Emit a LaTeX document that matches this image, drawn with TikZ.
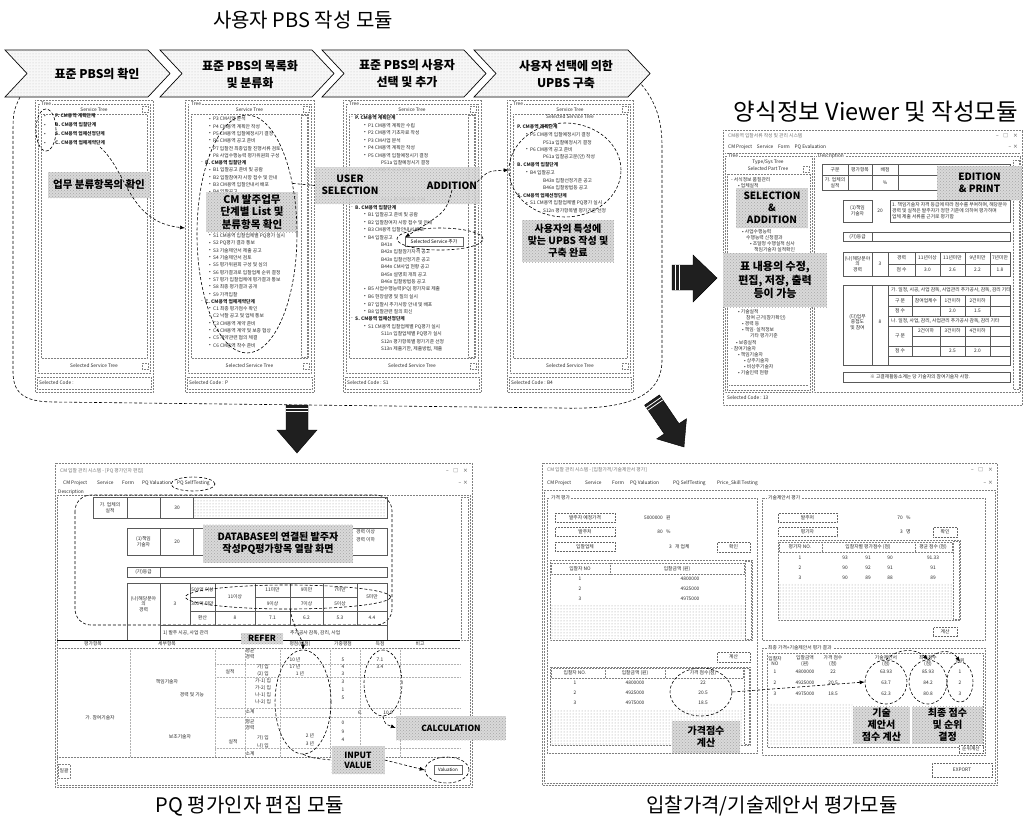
\documentclass[tikz,border=0pt]{standalone}
\usepackage{fontspec}
\setmainfont{Noto Sans CJK KR}
\usetikzlibrary{arrows.meta,patterns,shapes.geometric}
\tikzset{
  tx/.style={font=\fontsize{4.8}{5.6}\selectfont, inner sep=0pt, anchor=west, text=black!85},
  txc/.style={tx, anchor=center, align=center},
  txb/.style={tx, font=\fontsize{4.8}{5.6}\selectfont\bfseries},
  frame/.style={draw=black!50, densely dotted, line width=0.5pt},
  sframe/.style={draw=black!65, line width=0.4pt},
  btn/.style={draw=black!60, densely dotted, line width=0.5pt, fill=white},
  hl/.style={fill=gray!30, postaction={pattern=crosshatch dots, pattern color=black!35}, inner sep=0pt, font=\fontsize{10}{12}\selectfont\bfseries, align=center, text=black},
  chev/.style={draw=black, line width=0.7pt, fill=gray!6, postaction={pattern=dots, pattern color=black!25}},
  chevtxt/.style={font=\fontsize{12}{17}\selectfont\bfseries, align=center, inner sep=0pt},
  darr/.style={densely dashed, line width=0.6pt, -{Latex[length=5pt,width=4pt]}},
  dline/.style={densely dashed, line width=0.6pt},
  ell/.style={draw, ellipse, densely dashed, line width=0.6pt, inner sep=0pt},
  bigarrow/.style={fill=black!88, draw=black},
  hatchw/.style={white, line width=0.8pt},
  captxt/.style={font=\fontsize{20}{24}\selectfont, inner sep=0pt},
  dotfill/.style={pattern=dots, pattern color=black!40},
}
\newcommand{\treepanel}[4]{%
  \pgfmathsetmacro{\pmid}{(#2+#3)/2}
  \draw[frame] (#2,100) rectangle (#3,392);
  \draw[frame] ({#2+3},104) rectangle ({#3-3},373);
  \node[tx,fill=white,inner xsep=1pt] (#1tree) at ({#2+5},104) {Tree};
  \node[txc] (#1st) at (\pmid,109.5) {Service Tree};
  \draw[frame] ({#3-11},106) rectangle ({#3-5},112);
  \draw[frame] ({#2+6},114) rectangle ({#3-6},358);
  \node[txc] (#1sst) at (\pmid,366) {Selected Service Tree};
  \draw[frame] ({#3-11},363) rectangle ({#3-5},369);
  \draw[frame] ({#2+2},377) rectangle ({#3-2},389);
  \node[tx] (#1code) at ({#2+4},383) {Selected Code : #4};
}
\newcommand{\treeitems}[6]{%
  \foreach \n/\lv/\txt in {#6} {
    \pgfmathsetmacro{\yy}{#4+#5*\n}
    \pgfmathsetmacro{\xx}{#2+#3*\lv}
    \ifnum\lv=0
      \node[txb] (#1\n) at (\xx,\yy) {\txt};
      \node[tx,anchor=east] (#1m\n) at ({\xx-2},\yy) {-};
    \else
      \node[tx] (#1\n) at (\xx,\yy) {\txt};
      \ifnum\lv=1
        \node[tx,anchor=east] (#1m\n) at ({\xx-2},\yy) {•};
      \fi
    \fi
  }%
}
\begin{document}
\begin{tikzpicture}[x=1pt,y=-1pt]
\fill[white] (0,0) rectangle (1029,819);
\useasboundingbox (0,0) rectangle (1029,819);

% ---------------- top-left module ----------------
\node[captxt] (t1) at (303,20) {사용자 PBS 작성 모듈};

\draw[dline] (20,97) .. controls (13,112) .. (13,140) -- (13,372)
  .. controls (13,396) and (28,402) .. (55,402) -- (560,408)
  .. controls (625,410) and (662,398) .. (662,360) -- (662,145)
  .. controls (662,115) and (652,97) .. (641,84);

\foreach \ci/\cb/\ct in {1/5/170,2/160/334,3/322/486,4/474/650}{
  \draw[chev] (\cb,50) -- ({\ct-22},50) -- (\ct,73.5) -- ({\ct-22},97) -- (\cb,97) -- ({\cb+22},73.5) -- cycle;
}
\node[chevtxt] (c1) at (97,74) {표준 PBS의 확인};
\node[chevtxt] (c2) at (250,74) {표준 PBS의 목록화\\및 분류화};
\node[chevtxt] (c3) at (407,74) {표준 PBS의 사용자\\선택 및 추가};
\node[chevtxt] (c4) at (566,74) {사용자 선택에 의한\\UPBS 구축};

% panel 1
\treepanel{pa}{35}{153}{}
\foreach \n/\txt in {0/{P. CM용역 계획단계},1/{B. CM용역 입찰단계},2/{S. CM용역 업체선정단계},3/{C. CM용역 업체계약단계}}{
  \node[txb] (pai\n) at (55,{116+9*\n}) {\txt};
  \node[txc] (pab\n) at (45,{116+9*\n}) {•};
}
\node[ell, minimum width=20, minimum height=42] (pae) at (46,130) {};
\node[hl, minimum width=102, minimum height=26, font=\fontsize{10.5}{12}\selectfont\bfseries] (pah) at (99,185) {업무 분류항목의 확인};

% panel 2
\treepanel{pb}{185}{314}{P}
\draw[frame] (301,115) rectangle (307,357);
\treeitems{pbi}{205}{8}{119}{7.3}{0/1/{P3 CM사업 분석},1/1/{P4 CM용역 계획안 작성},2/1/{P5 CM용역 입찰예정시기 결정},3/1/{P6 CM용역 공고 준비},4/1/{P7 입찰전 최종입찰 진행서류 검토},5/1/{P8 사업수행능력 평가위원회 구성},6/0/{B. CM용역 입찰단계},7/1/{B1 입찰공고 준비 및 공람},8/1/{B2 입찰참여자 사항 접수 및 안내},9/1/{B3 CM용역 입찰안내서 배포},10/1/{B4 입찰공고},16/1/{S1 CM용역 입찰업체별 PQ평가 실시},17/1/{S2 PQ평가 결과 통보},18/1/{S3 기술제안서 제출 공고},19/1/{S4 기술제안서 검토},20/1/{S5 평가위원회 구성 및 심의},21/1/{S6 평가결과로 입찰업체 순위 결정},22/1/{S7 평가 입찰업체에 평가결과 통보},23/1/{S8 최종 평가결과 공개},24/1/{S9 가격입찰},25/0/{C. CM용역 업체계약단계},26/1/{C1 최종 평가점수 확인},27/1/{C2 낙찰 공고 및 업체 통보},28/1/{C3 CM용역 계약 준비},29/1/{C4 CM용역 계약 및 보증 협상},30/1/{C5 계약관련 협의 체결},31/1/{C6 CM용역 착수 준비}}
\node[hl, minimum width=92, minimum height=40, font=\fontsize{10.5}{12.5}\selectfont\bfseries] (pbh) at (252,212) {CM 발주업무\\단계별 List 및\\분류항목 확인};
\node[ell, minimum width=100, minimum height=238] (pbe) at (247,234) {};

% panel 3
\treepanel{pc}{343}{481}{S1}
\draw[frame] (468,115) rectangle (474,357);
\treeitems{pci}{355}{13}{118}{7.45}{0/0/{P. CM용역 계획단계},1/1/{P1 CM용역 계획안 수립},2/1/{P2 CM용역 기초자료 작성},3/1/{P3 CM사업 분석},4/1/{P4 CM용역 계획안 작성},5/1/{P5 CM용역 입찰예정시기 결정},6/2/{P51a 입찰예정시기 결정},7/1/{P6 CM용역 공고 준비},11/2/{P81a 평가위원회 구성},12/0/{B. CM용역 입찰단계},13/1/{B1 입찰공고 준비 및 공람},14/1/{B2 입찰참여자 사항 접수 및 안내},15/1/{B3 CM용역 입찰안내서 배포},16/1/{B4 입찰공고},17/2/{B41n},18/2/{B42n 입찰참가자격 공고},19/2/{B43n 입찰선정기준 공고},20/2/{B44n CM사업 현황 공고},21/2/{B45n 설명회 개최 공고},22/2/{B46n 입찰방법등 공고},23/1/{B5 사업수행능력(PQ) 평가자료 제출},24/1/{B6 현장설명 및 질의 실시},25/1/{B7 입찰시 추가사항 안내 및 배포},26/1/{B8 입찰관련 질의 회신},27/0/{S. CM용역 업체선정단계},28/1/{S1 CM용역 입찰업체별 PQ평가 실시},29/2/{S11n 입찰업체별 PQ평가 실시},30/2/{S12n 평가항목별 평가기준 선정},31/2/{S13n 제출기한, 제출방법, 제출}}
\node[draw=black!60, fill=white, font=\fontsize{4.8}{5.6}\selectfont, inner sep=1pt, minimum width=58, minimum height=9] (pcpop) at (434,242) {Selected Service 추가};
\node[ell, minimum width=86, minimum height=22] (pcpe) at (440,239) {};

% panel 4
\treepanel{pd}{507}{633}{B4}
\node[txc] (pdsel) at (570,117) {Selected Service Tree};
\treeitems{pdi}{517}{13}{127}{7.6}{0/0/{P. CM용역 계획단계},1/1/{P5 CM용역 입찰예정시기 결정},2/2/{P51a 입찰예정시기 결정},3/1/{P6 CM용역 공고 준비},4/2/{P61a 입찰공고문(안) 작성},5/0/{B. CM용역 입찰단계},6/1/{B4 입찰공고},7/2/{B43n 입찰선정기준 공고},8/2/{B46n 입찰방법등 공고},9/0/{S. CM용역 업체선정단계},10/1/{S1 CM용역 입찰업체별 PQ평가 실시},11/2/{S12n 평가항목별 평가기준 선정}}
\node[ell, minimum width=112, minimum height=94] (pde) at (565,170) {};
\node[hl, minimum width=92, minimum height=42] (pdh) at (568,241) {사용자의 특성에\\맞는 UPBS 작성 및\\구축 완료};

% selection band
\node[hl, minimum width=165, minimum height=37, fill opacity=0.88] (band) at (397.5,185.5) {};
\node[font=\fontsize{10}{12}\selectfont\bfseries, align=center, inner sep=0pt] (pcuser) at (350,185) {USER\\SELECTION};
\node[font=\fontsize{10}{12}\selectfont\bfseries, inner sep=0pt] (pcadd) at (452,186) {ADDITION};

% connectors upper
\coordinate (pas) at (100,147);
\coordinate (pbin) at (185,228);
\draw[darr] (pas) .. controls (128,172) and (128,222) .. (pbin);
\draw[dline] (pbe.48) -- (band.west);
\draw[darr] (pcadd.north east) .. controls (488,171) .. (pde.west);
\draw[darr] (pcadd.south) .. controls (446,212) .. (pcpop.north west);

% ---------------- right: form viewer ----------------
\node[captxt, font=\fontsize{23.5}{26}\selectfont] (t2) at (876,112) {양식정보 Viewer 및 작성모듈};
\draw[frame] (723,130) rectangle (1022,405);
\node[tx,text=black!55] (rwtitle) at (728,136) {CM용역 입찰서류 작성 및 관리 시스템};
\node[tx,anchor=east] (rwctl) at (1018,136) {–\quad □\quad ×};
\node[tx] (rmenu) at (728,147) {CM Project\quad Service\quad Form\quad PQ Evaluation};
\node[tx,anchor=east] (rmctl) at (1018,147) {– \,×};
\draw[frame] (725,153) -- (1020,153);
\draw[frame] (725,156) rectangle (812,392);
\node[tx,fill=white,inner xsep=1pt] (rtree) at (727,156) {Tree};
\node[txc] (rtt) at (768,162) {Type/Sys Tree};
\node[txc] (rspt) at (768,169) {Selected Part Tree};
\draw[frame] (803,166) rectangle (809,172);
\draw[frame] (727,174) rectangle (810,390);
\draw[frame] (729,385) -- (808,385);
\foreach \n/\x/\y/\txt in {1/731/180/{- 서식정보 품질관리},2/738/186/{• 업체실적},3/742/232/{• 사업수행능력},4/746/238/{수행능력 신청결과},5/750/244/{• 조달청 수행실적 심사},6/754/250/{책임기술자 실적확인},7/738/312/{• 기술실적},8/746/318/{참여 근거(참가확인)},9/742/324/{• 경력 등},10/742/330/{• 책임·실적정보},11/750/336/{기타 평가기준},12/736/343/{• 보증실적},13/731/349/{- 참여기술자},14/738/355/{• 책임기술자},15/744/361/{• 상주기술자},16/744/367/{• 비상주기술자},17/738/373/{• 기술인력 현황}}{
  \node[tx] (rl\n) at (\x,\y) {\txt};
}
\node[tx] (rcode) at (727,398) {Selected Code : 13};
\draw[frame] (814,156) rectangle (1020,392);
\node[tx,fill=white,inner xsep=1pt] (rdesc) at (817,156) {Description};
\draw[frame] (1013,160) rectangle (1019,389);
% tables
\draw[sframe] (822,164) rectangle (1010,190);
\draw[sframe] (848,164) -- (848,190) (872,164) -- (872,190) (898,164) -- (898,190) (822,175) -- (1010,175);
\node[txc] (rt1a) at (835,169.5) {구분};
\node[txc] (rt1b) at (860,169.5) {평가항목};
\node[txc] (rt1c) at (885,169.5) {배점};
\node[txc] (rt1d) at (835,182.5) {가. 업체의\\실적};
\node[txc] (rt1e) at (885,182.5) {\%};
\draw[sframe] (843,200) rectangle (872,222);
\node[txc] (rt2a) at (857.5,211) {(1)책임\\기술자};
\node[txc] (rt2b) at (880,211) {20};
\draw[sframe] (890,200) rectangle (1010,222);
\node[tx] (rt2c) at (892,205) {1. 책임기술자 자격 등급에 따라 점수를 부여하며, 해당분야};
\node[tx] (rt2d) at (892,211) {경력 및 실적은 발주자가 정한 기준에 의하여 평가하며};
\node[tx] (rt2e) at (892,217) {업체 제출 서류를 근거로 평가함};
\draw[sframe] (843,232) rectangle (1010,241);
\draw[sframe] (872,232) -- (872,241);
\node[txc] (rt3a) at (857.5,236.5) {(가)등급};
\draw[sframe] (843,252) rectangle (1010,276);
\foreach \x in {872,888,915,940,965,990}{\draw[sframe] (\x,252) -- (\x,276);}
\draw[sframe] (888,264) -- (1010,264);
\node[txc] (rt4a) at (857.5,264) {(나)해당분야\\의\\경력};
\node[txc] (rt4b) at (880,264) {3};
\foreach \n/\x/\ta/\tb in {1/901.5/{경력}/{점 수},2/927.5/{11년이상}/{3.0},3/952.5/{11년미만}/{2.6},4/977.5/{9년미만}/{2.2},5/1000/{7년미만}/{1.8}}{
  \node[txc] (rt4r\n) at (\x,258) {\ta};
  \node[txc] (rt4s\n) at (\x,270) {\tb};
}
\draw[sframe] (843,285) rectangle (1010,365);
\draw[sframe] (872,285) -- (872,365) (888,285) -- (888,365);
\node[txc] (rt5a) at (857.5,322) {(다)업무\\중첩도\\및 참여};
\node[txc] (rt5b) at (880,322) {8};
\node[tx] (rt5c) at (891,290) {가. 일정, 시공, 사업 감독, 사업관리 추가공사, 감독, 감리 기타};
\draw[sframe] (888,295) rectangle (1010,316);
\foreach \x in {912,940,965,990}{\draw[sframe] (\x,295) -- (\x,316);}
\draw[sframe] (888,306) -- (1010,306);
\node[txc] (rt5d) at (900,300.5) {구 분};
\node[txc] (rt5e) at (926,300.5) {참여업체수};
\node[txc] (rt5f) at (952.5,300.5) {1건이하};
\node[txc] (rt5g) at (977.5,300.5) {2건이하};
\node[txc] (rt5h) at (900,311) {점 수};
\node[txc] (rt5i) at (952.5,311) {2.0};
\node[txc] (rt5j) at (977.5,311) {1.5};
\node[tx] (rt5k) at (891,321) {나. 일정, 사업, 감리, 사업관리 추가공사 감독, 감리 기타};
\draw[sframe] (888,326) rectangle (1010,356);
\foreach \x in {912,940,965,990}{\draw[sframe] (\x,326) -- (\x,356);}
\draw[sframe] (888,346) -- (1010,346) (912,336) -- (1010,336);
\node[txc] (rt5l) at (900,336) {구 분};
\node[txc] (rt5m) at (926,331) {2건이하};
\node[txc] (rt5n) at (952.5,331) {3건이하};
\node[txc] (rt5o) at (977.5,331) {4건이하};
\node[txc] (rt5p) at (900,351) {점 수};
\node[txc] (rt5q) at (952.5,351) {2.5};
\node[txc] (rt5r) at (977.5,351) {2.0};
\draw[sframe] (843,372) rectangle (1010,382);
\node[tx] (rt6) at (870,377) {※ 고결재활동소계는 당 기술자의 참여기술자 사항.};
\node[hl, minimum width=72, minimum height=40] (rsel) at (772,208) {SELECTION\\\&\\ADDITION};
\node[hl, minimum width=104, minimum height=54, font=\fontsize{11}{13.5}\selectfont\bfseries] (rtbl) at (775,280) {표 내용의 수정,\\편집, 저장, 출력\\등이 가능};
\node[hl, minimum width=85, minimum height=34] (redit) at (979.5,183) {EDITION\\\& PRINT};

% big arrows
\draw[bigarrow] (672,265) -- (693,265) -- (693,255) -- (717,278) -- (693,302) -- (693,290) -- (672,290) -- cycle;
\draw[hatchw] (675.5,265) -- (675.5,290) (679,265) -- (679,290);
\draw[bigarrow] (286,405) -- (308,405) -- (308,430) -- (317,430) -- (297,453) -- (277,430) -- (286,430) -- cycle;
\draw[hatchw] (286,408) -- (308,408) (286,411.5) -- (308,411.5);
\draw[bigarrow] (659.4,394.9) -- (679.0,423.7) -- (686.5,418.7) -- (684,447) -- (656.7,438.9) -- (664.2,433.9) -- (644.6,405.1) -- cycle;
\draw[hatchw] (646.3,407.6) -- (661.1,397.4) (648,410.1) -- (662.8,399.9);

% ---------------- bottom-left: PQ editor ----------------
\draw[frame] (55,463) rectangle (472,787);
\node[tx,text=black!55] (qtitle) at (60,471) {CM 입찰 관리 시스템 - [PQ 평가인자 편집]};
\node[tx,anchor=east] (qctl) at (468,471) {–\quad □\quad ×};
\node[tx] (qm1) at (63,483) {CM Project};
\node[tx] (qm2) at (97,483) {Service};
\node[tx] (qm3) at (122,483) {Form};
\node[tx] (qm4) at (142,483) {PQ Valuation};
\node[tx] (qm5) at (177,483) {PQ SelfTesting};
\node[ell, minimum width=44, minimum height=14] (qme) at (193,484) {};
\node[tx,anchor=east] (qmctl) at (468,483) {– \,×};
\node[tx] (qdesc) at (58,492) {Description};
\draw[frame] (57,495) rectangle (470,785);
\draw[frame] (461,497) rectangle (468,640);
\draw[dline, rounded corners=16] (75,495) rectangle (392,625);
\draw[sframe] (93,497) rectangle (387,518);
\draw[sframe] (127,497) -- (127,518) (160,497) -- (160,518) (193,497) -- (193,518);
\fill[dotfill] (194,498) rectangle (386,517);
\node[txc] (qa1) at (110,507.5) {가. 업체의\\실적};
\node[txc] (qa2) at (177,507.5) {30};
\draw[sframe] (127,528) rectangle (387,555);
\draw[sframe] (160,528) -- (160,555) (193,528) -- (193,555);
\node[txc] (qb1) at (143.5,541.5) {(1)책임\\기술자};
\node[txc] (qb2) at (177,541.5) {20};
\node[tx] (qb3) at (356,532) {경력 이상};
\node[tx] (qb4) at (356,540) {경력 이하};
\node[hl, minimum width=150, minimum height=38] (qdb) at (278,543.5) {DATABASE의 연결된 발주자\\작성PQ평가항목 열람 화면};
\draw[sframe] (127,567) rectangle (387,577);
\draw[sframe] (160,567) -- (160,577);
\node[txc] (qc1) at (143.5,572) {(가)등급};
\draw[sframe] (127,583) rectangle (387,640);
\draw[sframe] (160,583) -- (160,640) (190,583) -- (190,625) (160,625) -- (387,625);
\foreach \x in {215,255,290,323,357}{\draw[sframe] (\x,583) -- (\x,625);}
\draw[sframe] (190,597) -- (215,597) (255,597) -- (357,597) (190,611) -- (387,611);
\node[txc] (qd1) at (143.5,604) {(나)해당분야\\의\\경력};
\node[txc] (qd2) at (175,604) {3};
\node[txc] (qd3) at (202.5,590) {500억 이상};
\node[txc] (qd4) at (202.5,604) {300억 미만};
\node[txc] (qd5) at (202.5,618) {환산};
\node[txc] (qd6) at (235,597) {11이상};
\node[txc] (qd7) at (272.5,590) {11미만};
\node[txc] (qd8) at (272.5,604) {9이상};
\node[txc] (qd9) at (306.5,590) {9미만};
\node[txc] (qd10) at (306.5,604) {7이상};
\node[txc] (qd11) at (340,590) {7미만};
\node[txc] (qd12) at (340,604) {5이상};
\node[txc] (qd13) at (372,597) {5미만};
\foreach \n/\x/\v in {1/235/8,2/272.5/7.1,3/306.5/6.2,4/340/5.3,5/372/4.4}{\node[txc] (qdv\n) at (\x,618) {\v};}
\node[tx] (qe1) at (163,632.5) {1) 발주 시공, 사업 관리};
\node[tx] (qe2) at (290,632.5) {추가공사 감독, 감리, 사업};
\node[ell, minimum width=205, minimum height=24] (qde) at (288,597) {};
% lower table
\draw[line width=0.8pt] (57,640) -- (460,640);
\foreach \n/\x/\txt in {1/93/평가항목,2/167/세부항목,3/300/평점(배점),4/343/가중평점,5/380/득점,6/420/비고}{\node[txc] (qh\n) at (\x,644) {\txt};}
\draw[frame] (57,648) -- (460,648);
\foreach \x in {130,215,245,280,330,360,400}{\draw[frame,draw=black!30] (\x,648) -- (\x,757);}
\foreach \y in {664,677,708,717,748}{\draw[frame,draw=black!30] (215,\y) -- (460,\y);}
\draw[frame] (57,757) -- (460,757);
\foreach \n/\x/\y/\txt in {1/250/651/{평균},2/250/657/{경력},3/230/672/{실적},4/263/667/{가) 입},5/263/674/{(2) 입},6/263/681/{가-1) 입},7/263/688/{가-2) 입},8/263/695/{나-1) 입},9/263/702/{나-2) 입},10/167/682/{책임기술자},11/192/695/{경력 및 기능},12/250/712/{소계},13/100/718/{가. 참여기술자},14/250/722/{평균},15/250/728/{경력},16/180/737/{보조기술자},17/233/742/{실적},18/263/738/{가) 입},19/263/746/{나) 입},20/250/754/{소계},21/295/660/{10 년},22/295/667/{17 년},23/300/674/{1 년},24/343/660/{5},25/343/667/{4},26/343/674/{3},27/343/682/{3},28/343/690/{1},29/343/698/{5},30/360/713/{6.},31/388/713/{10.9},32/343/723/{0},33/343/732/{9},34/343/740/{4},35/310/736/{2 년},36/310/744/{3 년},37/380/660/{7.1},38/380/667/{3.4}}{
  \node[txc] (ql\n) at (\x,\y) {\txt};
}
\draw[frame] (58,764) rectangle (70,778);
\node[txc] (qsm) at (64,771) {일괄};
\node[hl, minimum width=42, minimum height=11, font=\fontsize{8.5}{10}\selectfont\bfseries] (qrefer) at (262,638.5) {REFER};
\node[ell, minimum width=56, minimum height=104] (qin) at (303,702) {};
\node[ell, minimum width=38, minimum height=66] (qcalc) at (383,683) {};
\node[hl, minimum width=110, minimum height=24, font=\fontsize{8.5}{10}\selectfont\bfseries] (qcl) at (451,728) {CALCULATION};
\node[hl, minimum width=53, minimum height=28, font=\fontsize{8.5}{10}\selectfont\bfseries] (qiv) at (358,760) {INPUT\\VALUE};
\node[draw=black!60, fill=white, font=\fontsize{4.5}{5}\selectfont, inner sep=1pt, minimum width=28, minimum height=9] (qval) at (448,770) {Valuation};
\node[ell, minimum width=44, minimum height=26] (qvale) at (447,770) {};
\draw[darr] (qde.-80) .. controls (293,628) and (303,640) .. (qin.north);
\draw[darr] (qcalc.south) .. controls (385,724) .. (qcl.west);
\draw[dline] (qin.south) .. controls (312,758) .. (qiv.west);
\draw[darr] (qiv.east) -- (qvale.west);

% ---------------- bottom-right: bid evaluation ----------------
\draw[frame] (542,463) rectangle (997,785);
\node[tx,text=black!55] (btitle) at (547,470) {CM 입찰 관리 시스템 - [입찰가격/기술제안서 평가]};
\node[tx,anchor=east] (bctl) at (993,470) {–\quad □\quad ×};
\node[tx] (bm1) at (547,483) {CM Project};
\node[tx] (bm2) at (585,483) {Service};
\node[tx] (bm3) at (612,483) {Form};
\node[tx] (bm4) at (630,483) {PQ Valuation};
\node[tx] (bm5) at (673,483) {PQ SelfTesting};
\node[tx] (bm6) at (717,483) {Price\_Skill Testing};
\node[tx,anchor=east] (bmctl) at (993,483) {– \,×};
\draw[frame] (544,490) rectangle (995,783);
% price group
\draw[frame] (547,498) rectangle (757,753);
\node[tx,fill=white,inner xsep=1pt] (bg1) at (550,498) {가격 평가};
\node[btn,txc,minimum width=60,minimum height=9] (bb1) at (585,517.5) {발주자 예정가격};
\node[tx,anchor=east] (bv1) at (663,517.5) {5000000};
\node[tx] (bu1) at (666,517.5) {원};
\node[btn,txc,minimum width=60,minimum height=9] (bb2) at (585,532) {발주처};
\node[tx,anchor=east] (bv2) at (663,532) {80};
\node[tx] (bu2) at (666,532) {\%};
\node[btn,txc,minimum width=60,minimum height=9] (bb3) at (585,546.5) {입찰업체};
\node[tx,anchor=east] (bv3) at (672,546.5) {3};
\node[tx] (bu3) at (675,546.5) {개 업체};
\node[btn,txc,minimum width=33,minimum height=10] (bb4) at (733.5,547) {확인};
\draw[frame] (550,560) rectangle (752,640);
\draw[frame] (551,563) rectangle (744,574);
\draw[frame] (610,563) -- (610,574);
\node[txc] (bt1h1) at (580,568.5) {입찰자 NO};
\node[txc] (bt1h2) at (677,568.5) {입찰금액 (원)};
\foreach \r/\v in {1/4800000,2/4925000,3/4975000}{
  \node[txc] (bt1a\r) at (580,{569+10*\r}) {\r};
  \node[txc] (bt1b\r) at (690,{569+10*\r}) {\v};
}
\fill[dotfill] (551,605) rectangle (744,638);
\draw[frame] (745,561) rectangle (751,639);
\node[btn,txc,minimum width=33,minimum height=10] (bcalc1) at (733.5,657) {계산};
\draw[frame] (550,667) rectangle (750,745);
\draw[frame] (551,668) rectangle (743,678);
\draw[frame] (605,668) -- (605,678) (665,668) -- (665,678);
\node[txc] (bt2h1) at (575,673) {입찰자 NO.};
\node[txc] (bt2h2) at (635,673) {입찰금액 (원)};
\node[txc] (bt2h3) at (703,673) {가격 점수(점)};
\foreach \r/\v/\s in {1/4800000/22,2/4925000/20.5,3/4975000/18.5}{
  \node[txc] (bt2a\r) at (575,{673+10*\r}) {\r};
  \node[txc] (bt2b\r) at (635,{673+10*\r}) {\v};
  \node[txc] (bt2c\r) at (703,{673+10*\r}) {\s};
}
\fill[dotfill] (551,709) rectangle (743,744);
\draw[frame] (744,668) rectangle (749,744);
\node[ell, minimum width=62, minimum height=48] (bpe) at (701,692) {};
\node[hl, minimum width=68, minimum height=32] (bph) at (706,737) {가격점수\\계산};
% tech group
\draw[frame] (762,498) rectangle (985,640);
\node[tx,fill=white,inner xsep=1pt] (bg2) at (767,498) {기술제안서 평가};
\node[btn,txc,minimum width=59,minimum height=9] (bb5) at (807.5,517.5) {발주처};
\node[tx,anchor=east] (bv5) at (903,517.5) {70};
\node[tx] (bu5) at (906,517.5) {\%};
\node[btn,txc,minimum width=59,minimum height=9] (bb6) at (807.5,532) {평가자};
\node[tx,anchor=east] (bv6) at (903,532) {3};
\node[tx] (bu6) at (906,532) {명};
\node[btn,txc,minimum width=24,minimum height=10] (bb7) at (945,532) {확인};
\draw[frame] (778,540) rectangle (960,620);
\draw[frame] (779,542) rectangle (952,552);
\draw[frame] (822,542) -- (822,552) (915,542) -- (915,552);
\node[txc] (bt3h1) at (800,547) {평가자 NO.};
\node[txc] (bt3h2) at (868,547) {입찰자별 평가점수 (점)};
\node[txc] (bt3h3) at (933,547) {평균 점수 (점)};
\foreach \r/\a/\b/\c/\m in {1/93/91/90/91.33,2/90/92/91/91,3/90/89/88/89}{
  \node[txc] (bt3a\r) at (800,{548+10*\r}) {\r};
  \node[txc] (bt3b\r) at (845,{548+10*\r}) {\a};
  \node[txc] (bt3c\r) at (868,{548+10*\r}) {\b};
  \node[txc] (bt3d\r) at (890,{548+10*\r}) {\c};
  \node[txc] (bt3e\r) at (933,{548+10*\r}) {\m};
}
\fill[dotfill] (779,584) rectangle (952,618);
\draw[frame] (953,541) rectangle (959,619);
\node[btn,txc,minimum width=24,minimum height=9] (bcalc2) at (945,632) {계산};
% result group
\draw[frame] (762,648) rectangle (985,755);
\node[tx,fill=white,inner xsep=1pt] (bg3) at (767,648) {최종 가격+기술제안서 평가 결과};
\draw[frame] (767,653) rectangle (983,747);
\foreach \n/\x/\txt in {1/775/{입찰자\\NO},2/805/{입찰금액\\(원)},3/833/{가격 점수\\(점)},4/886/{기술제안서\\(점)},5/928/{최종점수\\(점)},6/960/{순위}}{
  \node[txc] (bt4h\n) at (\x,661) {\txt};
}
\foreach \r/\v/\p/\t/\f in {1/4800000/22/63.93/85.93,2/4925000/20.5/63.7/84.2,3/4975000/18.5/62.3/80.8}{
  \node[txc] (bt4a\r) at (775,{661+11*\r}) {\r};
  \node[txc] (bt4b\r) at (805,{661+11*\r}) {\v};
  \node[txc] (bt4c\r) at (833,{661+11*\r}) {\p};
  \node[txc] (bt4d\r) at (886,{661+11*\r}) {\t};
  \node[txc] (bt4e\r) at (928,{661+11*\r}) {\f};
  \node[txc] (bt4f\r) at (960,{661+11*\r}) {\r};
}
\fill[dotfill] (768,703) rectangle (852,745);
\node[ell, minimum width=42, minimum height=44] (bc1) at (886,682) {};
\node[ell, minimum width=38, minimum height=44] (bc2) at (928,682) {};
\node[ell, minimum width=26, minimum height=40] (bc3) at (960,682) {};
\draw[darr] (bpe.east) -- (bc1.west);
\draw[darr] (bc1.north) .. controls (898,648) and (916,648) .. (bc2.north);
\draw[darr] (bc2.north) .. controls (940,648) and (952,650) .. (bc3.north);
\node[hl, minimum width=57, minimum height=37] (bth) at (881.5,725) {기술\\제안서\\점수 계산};
\node[hl, minimum width=71, minimum height=37] (bfh) at (947.5,725) {최종 점수\\및 순위\\결정};
\node[btn,txc,minimum width=24,minimum height=8] (brank) at (971,749) {순위계산};
\node[btn,txc,minimum width=60,minimum height=14] (bexp) at (962,770) {EXPORT};

% captions
\node[captxt] (lbq) at (250,806) {PQ 평가인자 편집 모듈};
\node[captxt] (lbb) at (772,806) {입찰가격/기술제안서 평가모듈};
\end{tikzpicture}
\end{document}
